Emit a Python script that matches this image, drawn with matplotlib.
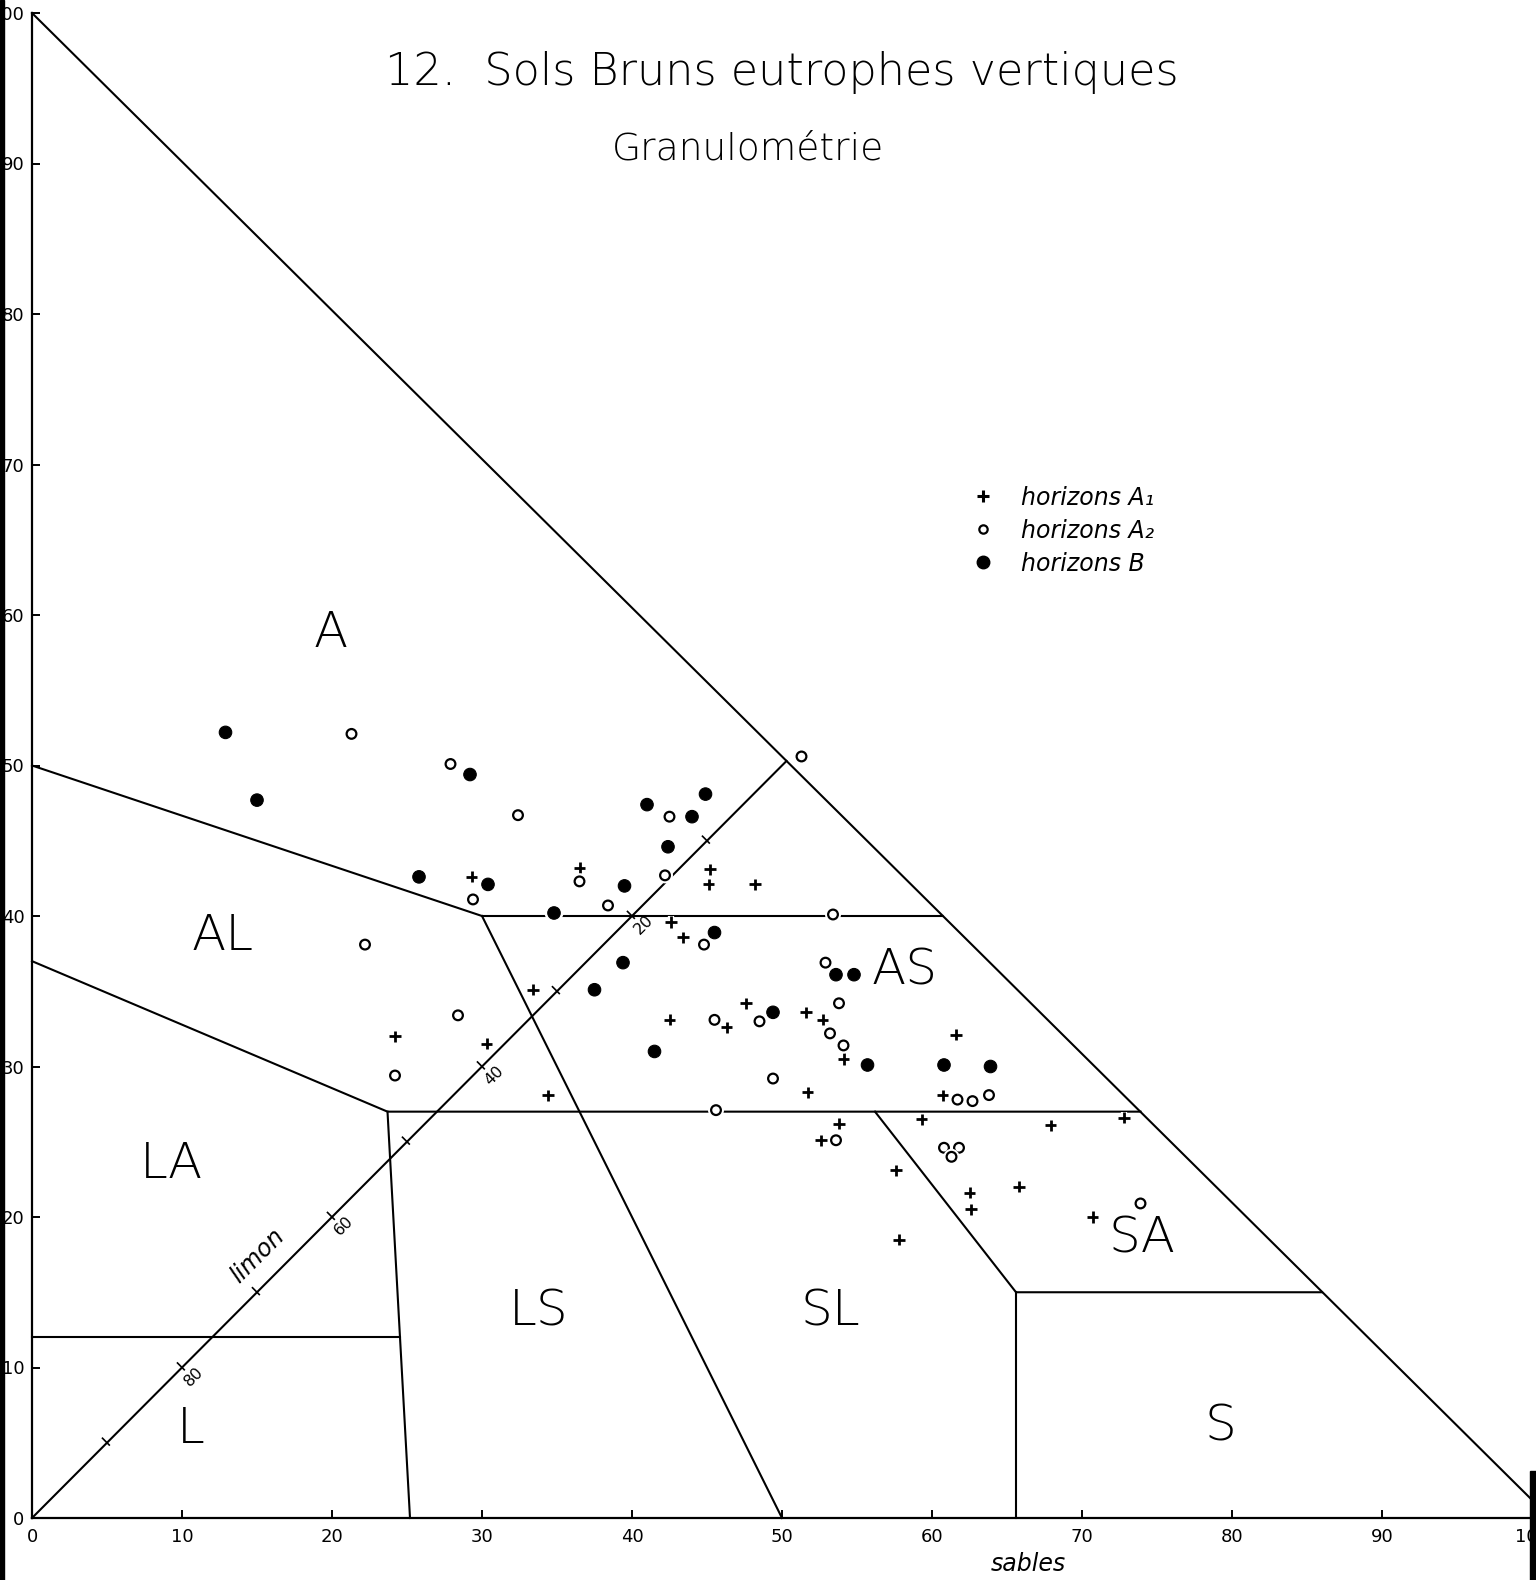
import matplotlib
matplotlib.use("Agg")
import matplotlib.pyplot as plt
import matplotlib.patheffects as pe
from matplotlib.lines import Line2D
from matplotlib.patches import Rectangle
import numpy as np

# horizons A1 (+) : sables %, argile %
a1_sable = [29.3, 36.5, 45.2, 45.1, 48.2, 42.6, 43.4, 33.4, 24.2, 30.3, 34.4,
            42.5, 46.3, 47.6, 51.6, 52.7, 54.1, 61.6, 51.7, 60.7, 53.8, 59.3,
            52.6, 67.9, 72.8, 57.6, 62.5, 62.6, 65.8, 70.7, 57.8]
a1_argile = [42.6, 43.2, 43.1, 42.1, 42.1, 39.6, 38.6, 35.1, 32.0, 31.5, 28.1,
             33.1, 32.6, 34.2, 33.6, 33.1, 30.5, 32.1, 28.3, 28.1, 26.2, 26.5,
             25.1, 26.1, 26.6, 23.1, 21.6, 20.5, 22.0, 20.0, 18.5]

# horizons A2 (o)
a2_sable = [21.3, 27.9, 32.4, 29.4, 22.2, 42.5, 36.5, 42.2, 38.4, 53.4, 44.8,
            52.9, 28.4, 24.2, 45.5, 48.5, 49.4, 45.6, 53.8, 53.2, 54.1, 61.7,
            62.7, 63.8, 53.6, 60.8, 61.8, 61.3, 73.9, 51.3]
a2_argile = [52.1, 50.1, 46.7, 41.1, 38.1, 46.6, 42.3, 42.7, 40.7, 40.1, 38.1,
             36.9, 33.4, 29.4, 33.1, 33.0, 29.2, 27.1, 34.2, 32.2, 31.4, 27.8,
             27.7, 28.1, 25.1, 24.6, 24.6, 24.0, 20.9, 50.6]

# horizons B (filled)
b_sable = [12.9, 29.2, 15.0, 25.8, 30.4, 34.8, 41.0, 44.9, 44.0, 42.4, 39.5,
           45.5, 39.4, 53.6, 54.8, 37.5, 41.5, 49.4, 55.7, 60.8, 63.9]
b_argile = [52.2, 49.4, 47.7, 42.6, 42.1, 40.2, 47.4, 48.1, 46.6, 44.6, 42.0,
            38.9, 36.9, 36.1, 36.1, 35.1, 31.0, 33.6, 30.1, 30.1, 30.0]

# texture class boundaries (sables, argile)
boundaries = [
    [(0, 100), (100, 1.2)],
    [(0, 50), (30, 40), (60.7, 40)],
    [(0, 0), (50.3, 50.3)],
    [(0, 37), (23.7, 27), (73.9, 27)],
    [(23.7, 27), (25.2, 0)],
    [(0, 12), (24.5, 12)],
    [(30, 40), (50, 0)],
    [(56.2, 27), (65.6, 15), (86, 15)],
    [(65.6, 15), (65.6, 0)],
]

classes = ["A", "AL", "LA", "L", "LS", "SL", "AS", "SA", "S"]
class_x = [19.9, 12.7, 9.3, 10.6, 33.8, 53.2, 58.2, 74.0, 79.2]
class_y = [58.8, 38.7, 23.5, 5.9, 13.7, 13.7, 36.4, 18.6, 6.1]

limon_ticks = [10, 20, 30, 40, 50, 60, 70, 80, 90]
limon_labels = [20, 40, 60, 80]

W, H = 1536, 1580
fig = plt.figure(figsize=(W / 100, H / 100), dpi=100)
ax = fig.add_axes([32 / W, 62 / H, 1500 / W, 1505 / H])
ax.set_xlim(0, 100)
ax.set_ylim(0, 100)

for seg in boundaries:
    xs, ys = zip(*seg)
    ax.plot(xs, ys, color="black", lw=1.5, zorder=2, clip_on=False)

# graduation of the silt axis along the diagonal
for s in limon_ticks:
    c = (100 - s) / 2
    ax.plot([c + 0.15, c - 0.3], [c - 0.15, c + 0.3], color="black", lw=1.2, zorder=2)
for s in limon_labels:
    c = (100 - s) / 2
    ax.text(c + 0.8, c - 0.6, str(s), rotation=45, ha="center", va="center",
            fontsize=11.5)
ax.text(15.0, 17.4, "limon", rotation=45, ha="center", va="center",
        fontsize=17, fontweight="light", style="italic")

halo = [pe.withStroke(linewidth=4.5, foreground="white")]
ax.plot(a1_sable, a1_argile, ls="none", marker="+", ms=8, mew=2.0,
        color="black", zorder=4, path_effects=halo)
ax.plot(a2_sable, a2_argile, ls="none", marker="o", ms=7, mew=1.6,
        mfc="white", mec="black", zorder=4, path_effects=halo)
ax.plot(b_sable, b_argile, ls="none", marker="o", ms=9, mew=0.8,
        color="black", zorder=4, path_effects=halo)

for name, x, y in zip(classes, class_x, class_y):
    ax.text(x, y, name, ha="center", va="center", fontsize=36, fontweight="light")

handles = [
    Line2D([], [], ls="none", marker="+", ms=8, mew=2.2, color="black"),
    Line2D([], [], ls="none", marker="o", ms=6, mew=1.6, mfc="white", mec="black"),
    Line2D([], [], ls="none", marker="o", ms=9, color="black"),
]
ax.legend(handles, ["horizons A\u2081", "horizons A\u2082", "horizons B"],
          loc="center left", bbox_to_anchor=(62.6, 65.6), bbox_transform=ax.transData,
          frameon=False, handlelength=1.0, handletextpad=1.1, labelspacing=0.38,
          borderpad=0, borderaxespad=0,
          prop={"size": 17, "style": "italic", "weight": "light"})

ax.set_xticks(np.arange(0, 101, 10))
ax.set_yticks(np.arange(0, 101, 10))
ax.tick_params(direction="in", length=6, width=1.4, labelsize=13, pad=7)
ax.tick_params(axis="y", pad=5.5)
for side in ("top", "right"):
    ax.spines[side].set_visible(False)
for side in ("left", "bottom"):
    ax.spines[side].set_linewidth(1.6)

ax.set_xlabel("sables", fontsize=17, style="italic", fontweight="light")
ax.xaxis.set_label_coords(0.664, -0.0226)

fig.text(0.509, 0.954, "12.  Sols Bruns eutrophes vertiques", ha="center", va="center",
         fontsize=32, fontweight="light")
fig.text(0.487, 0.906, "Granulométrie", ha="center", va="center",
         fontsize=27, fontweight="light")

# scan edges
fig.patches.append(Rectangle((0, 0), 4 / W, 1, transform=fig.transFigure,
                             color="black", zorder=10))
fig.patches.append(Rectangle((1530 / W, 0), 6 / W, 109 / H, transform=fig.transFigure,
                             color="black", zorder=10))

fig.savefig("out.png", dpi=100, facecolor="white")
